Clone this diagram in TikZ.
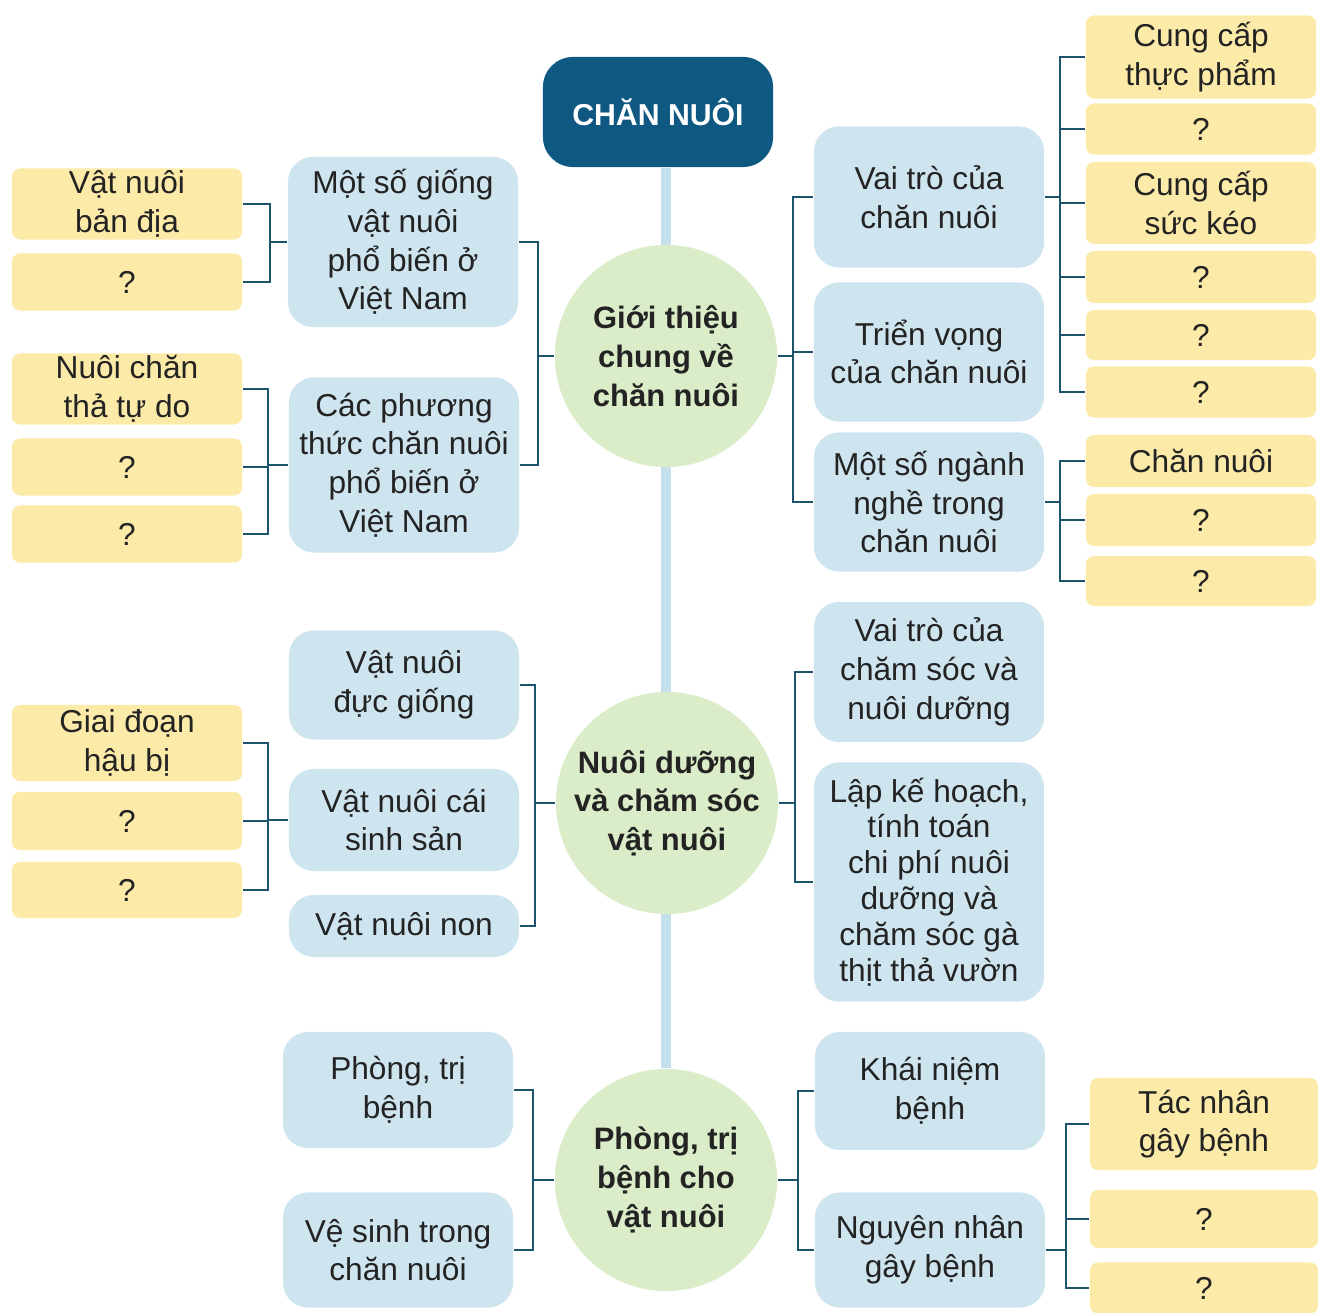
\documentclass[tikz,border=0pt]{standalone}
\usepackage{fontspec}
\setmainfont{Liberation Sans}
\usetikzlibrary{positioning,backgrounds}

\definecolor{titleblue}{RGB}{14,88,130}
\definecolor{subblue}{RGB}{206,228,239}
\definecolor{topicgreen}{RGB}{218,236,200}
\definecolor{leafyellow}{RGB}{252,234,168}
\definecolor{linkteal}{RGB}{28,84,108}
\definecolor{spineblue}{RGB}{196,224,236}
\definecolor{inktext}{RGB}{35,35,35}

\begin{document}
\begin{tikzpicture}[
  x=0.01cm, y=-0.01cm,
  every node/.style={font=\fontsize{9}{11}\selectfont, text=inktext,
                     align=center, inner sep=2pt},
  title/.style={fill=titleblue, rounded corners=3mm, text=white,
                font=\fontsize{8.6}{11}\selectfont\bfseries,
                minimum width=2.3cm, minimum height=1.1cm},
  topic/.style={circle, fill=topicgreen, minimum size=2.22cm, inner sep=0pt,
                font=\fontsize{8.8}{11}\selectfont\bfseries},
  sub/.style={fill=subblue, rounded corners=2.5mm, minimum width=2.3cm},
  leaf/.style={fill=leafyellow, rounded corners=0.8mm, minimum width=2.3cm,
               inner ysep=0.5pt},
  link/.style={draw=linkteal, line width=0.6pt},
  spine/.style={draw=spineblue, line width=2.6pt}
]
\useasboundingbox (0,0) rectangle (1318,1313);

% title and topics
\node[title] (root) at (658,112) {CHĂN NUÔI};
\node[topic] (intro) at (666,356) {Giới thiệu\\chung về\\chăn nuôi};
\node[topic] (care) at (667,803) {Nuôi dưỡng\\và chăm sóc\\vật nuôi};
\node[topic] (health) at (666,1180) {Phòng, trị\\bệnh cho\\vật nuôi};

% intro
\node[sub, minimum height=1.7cm] (breeds) at (403,242) {Một số giống\\vật nuôi\\phổ biến ở\\Việt Nam};
\node[sub, minimum height=1.75cm] (methods) at (404,465) {Các phương\\thức chăn nuôi\\phổ biến ở\\Việt Nam};
\node[sub, minimum height=1.41cm] (roles) at (929,197) {Vai trò của\\chăn nuôi};
\node[sub, minimum height=1.39cm] (outlook) at (929,352) {Triển vọng\\của chăn nuôi};
\node[sub, minimum height=1.39cm] (jobs) at (929,502) {Một số ngành\\nghề trong\\chăn nuôi};

\node[leaf, minimum height=0.71cm] (native) at (127,204) {Vật nuôi\\bản địa};
\node[leaf, minimum height=0.57cm] (breedq) at (127,282) {?};
\node[leaf, minimum height=0.71cm] (freerange) at (127,389) {Nuôi chăn\\thả tự do};
\node[leaf, minimum height=0.57cm] (methq1) at (127,467) {?};
\node[leaf, minimum height=0.57cm] (methq2) at (127,534) {?};

\node[leaf, minimum height=0.83cm] (food) at (1201,57) {Cung cấp\\thực phẩm};
\node[leaf, minimum height=0.51cm] (roleq1) at (1201,129) {?};
\node[leaf, minimum height=0.82cm] (draft) at (1201,203) {Cung cấp\\sức kéo};
\node[leaf, minimum height=0.52cm] (roleq2) at (1201,277) {?};
\node[leaf, minimum height=0.5cm] (roleq3) at (1201,335) {?};
\node[leaf, minimum height=0.51cm] (roleq4) at (1201,392) {?};
\node[leaf, minimum height=0.52cm] (farming) at (1201,461) {Chăn nuôi};
\node[leaf, minimum height=0.52cm] (jobq1) at (1201,520) {?};
\node[leaf, minimum height=0.5cm] (jobq2) at (1201,581) {?};

% care
\node[sub, minimum height=1.09cm] (sires) at (404,685) {Vật nuôi\\đực giống};
\node[sub, minimum height=1.02cm] (dams) at (404,820) {Vật nuôi cái\\sinh sản};
\node[sub, minimum height=0.62cm] (young) at (404,926) {Vật nuôi non};
\node[leaf, minimum height=0.76cm] (rearing) at (127,743) {Giai đoạn\\hậu bị};
\node[leaf, minimum height=0.58cm] (damq1) at (127,821) {?};
\node[leaf, minimum height=0.56cm] (damq2) at (127,890) {?};
\node[sub, minimum height=1.4cm] (careroles) at (929,672) {Vai trò của\\chăm sóc và\\nuôi dưỡng};
\node[sub, minimum height=2.39cm, font=\fontsize{9}{10.2}\selectfont] (planning) at (929,882) {Lập kế hoạch,\\tính toán\\chi phí nuôi\\dưỡng và\\chăm sóc gà\\thịt thả vườn};

% health
\node[sub, minimum height=1.16cm] (treat) at (398,1090) {Phòng, trị\\bệnh};
\node[sub, minimum height=1.15cm] (hygiene) at (398,1250) {Vệ sinh trong\\chăn nuôi};
\node[sub, minimum height=1.18cm] (concept) at (930,1091) {Khái niệm\\bệnh};
\node[sub, minimum height=1.15cm] (causes) at (930,1250) {Nguyên nhân\\gây bệnh};
\node[leaf, minimum height=0.92cm, minimum width=2.28cm] (agents) at (1204,1124) {Tác nhân\\gây bệnh};
\node[leaf, minimum height=0.58cm, minimum width=2.28cm] (causeq1) at (1204,1219) {?};
\node[leaf, minimum height=0.51cm, minimum width=2.28cm] (causeq2) at (1204,1288) {?};

% bracket knees
\coordinate (breedsfork) at (270,0);
\coordinate (methodsfork) at (268,0);
\coordinate (introleft) at (538,0);
\coordinate (introright) at (793,0);
\coordinate (rolesfork) at (1060,0);
\coordinate (jobsfork) at (1060,0);
\coordinate (damsfork) at (268,0);
\coordinate (careleft) at (535,0);
\coordinate (careright) at (795,0);
\coordinate (healthleft) at (533,0);
\coordinate (healthright) at (798,0);
\coordinate (causesfork) at (1066,0);

\begin{scope}[on background layer]
\draw[spine] (root.south -| intro) -- (health.north);
\end{scope}

% left brackets
\draw[link] (native.east) -| (breedsfork |- breedq.east) -- (breedq.east);
\draw[link] (breedsfork |- breeds.west) -- (breeds.west);
\draw[link] (freerange.east) -| (methodsfork |- methq2.east) -- (methq2.east);
\draw[link] (methq1.east) -- (methodsfork |- methq1.east);
\draw[link] (methodsfork |- methods.west) -- (methods.west);
\draw[link] (breeds.east) -| (introleft |- methods.east) -- (methods.east);
\draw[link] (introleft |- intro.west) -- (intro.west);

\draw[link] (rearing.east) -| (damsfork |- damq2.east) -- (damq2.east);
\draw[link] (damq1.east) -- (damsfork |- damq1.east);
\draw[link] (damsfork |- dams.west) -- (dams.west);
\draw[link] (sires.east) -| (careleft |- young.east) -- (young.east);
\draw[link] (careleft |- care.west) -- (care.west);

\draw[link] (treat.east) -| (healthleft |- hygiene.east) -- (hygiene.east);
\draw[link] (healthleft |- health.west) -- (health.west);

% right brackets
\draw[link] (roles.west) -| (introright |- jobs.west) -- (jobs.west);
\draw[link] (outlook.west) -- (introright |- outlook.west);
\draw[link] (intro.east) -- (introright |- intro.east);

\draw[link] (food.west) -| (rolesfork |- roleq4.west) -- (roleq4.west);
\foreach \n in {roleq1,draft,roleq2,roleq3}
  \draw[link] (\n.west) -- (rolesfork |- \n.west);
\draw[link] (roles.east) -- (rolesfork |- roles.east);

\draw[link] (farming.west) -| (jobsfork |- jobq2.west) -- (jobq2.west);
\draw[link] (jobq1.west) -- (jobsfork |- jobq1.west);
\draw[link] (jobs.east) -- (jobsfork |- jobs.east);

\draw[link] (careroles.west) -| (careright |- planning.west) -- (planning.west);
\draw[link] (care.east) -- (careright |- care.east);

\draw[link] (concept.west) -| (healthright |- causes.west) -- (causes.west);
\draw[link] (health.east) -- (healthright |- health.east);

\draw[link] (agents.west) -| (causesfork |- causeq2.west) -- (causeq2.west);
\draw[link] (causeq1.west) -- (causesfork |- causeq1.west);
\draw[link] (causes.east) -- (causesfork |- causes.east);
\end{tikzpicture}
\end{document}
